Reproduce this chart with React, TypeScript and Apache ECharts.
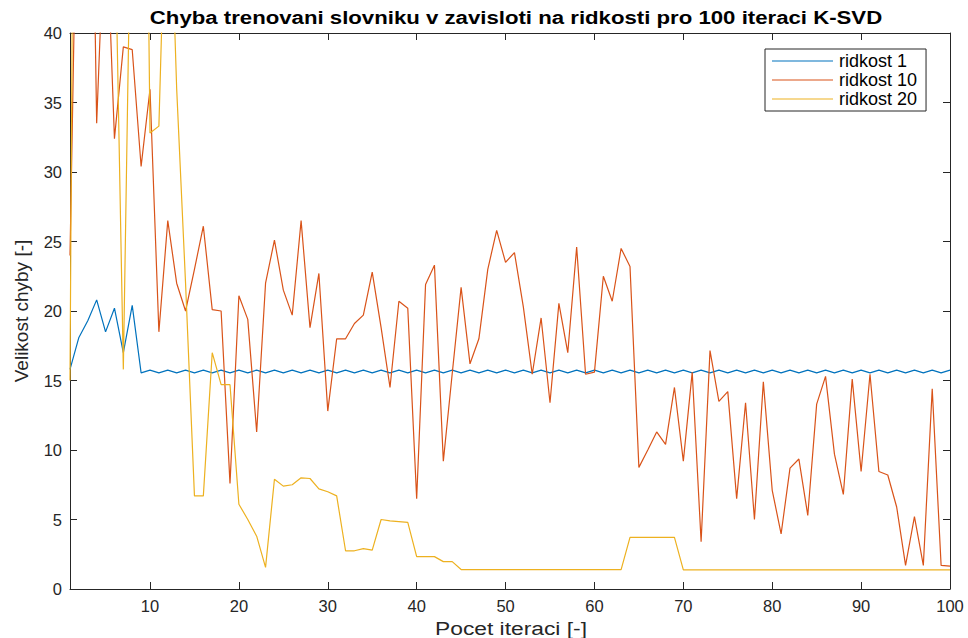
import React, { useEffect, useRef } from "react";
import * as echarts from "echarts";

const iterations: number[] = [
  1, 2, 3, 4, 5, 6, 7, 8, 9, 10, 11, 12, 13, 14, 15, 16, 17, 18, 19, 20,
  21, 22, 23, 24, 25, 26, 27, 28, 29, 30, 31, 32, 33, 34, 35, 36, 37, 38, 39, 40,
  41, 42, 43, 44, 45, 46, 47, 48, 49, 50, 51, 52, 53, 54, 55, 56, 57, 58, 59, 60,
  61, 62, 63, 64, 65, 66, 67, 68, 69, 70, 71, 72, 73, 74, 75, 76, 77, 78, 79, 80,
  81, 82, 83, 84, 85, 86, 87, 88, 89, 90, 91, 92, 93, 94, 95, 96, 97, 98, 99, 100,
];

const ridkost1: number[] = [
  15.8, 18.1, 19.3, 20.8, 18.5, 20.2, 17.0, 20.4, 15.55, 15.75,
  15.55, 15.75, 15.55, 15.75, 15.55, 15.75, 15.55, 15.75, 15.55, 15.75,
  15.55, 15.75, 15.55, 15.75, 15.55, 15.75, 15.55, 15.75, 15.55, 15.75,
  15.55, 15.75, 15.55, 15.75, 15.55, 15.75, 15.55, 15.75, 15.55, 15.75,
  15.55, 15.75, 15.55, 15.75, 15.55, 15.75, 15.55, 15.75, 15.55, 15.75,
  15.55, 15.75, 15.55, 15.75, 15.55, 15.75, 15.55, 15.75, 15.55, 15.75,
  15.55, 15.75, 15.55, 15.75, 15.55, 15.75, 15.55, 15.75, 15.55, 15.75,
  15.55, 15.75, 15.55, 15.75, 15.55, 15.75, 15.55, 15.75, 15.55, 15.75,
  15.55, 15.75, 15.55, 15.75, 15.55, 15.75, 15.55, 15.75, 15.55, 15.75,
  15.55, 15.75, 15.55, 15.75, 15.55, 15.75, 15.55, 15.75, 15.55, 15.75,
];

const ridkost10: number[] = [
  24, 60, 74, 33.5, 50, 32.4, 39.0, 38.8, 30.4, 35.95,
  18.5, 26.5, 22.0, 20.0, 23.0, 26.1, 20.1, 20.0, 7.6, 21.1,
  19.4, 11.3, 22.0, 25.1, 21.5, 19.7, 26.5, 18.8, 22.7, 12.8,
  18.0, 18.0, 19.1, 19.7, 22.8, 18.8, 14.5, 20.7, 20.2, 6.5,
  21.9, 23.3, 9.2, 15.5, 21.7, 16.2, 18.0, 23.0, 25.8, 23.5,
  24.2, 20.3, 15.45, 19.5, 13.4, 20.55, 17.0, 24.6, 15.45, 15.6,
  22.5, 20.7, 24.5, 23.2, 8.75, 10.0, 11.3, 10.4, 14.5, 9.2,
  15.6, 3.4, 17.15, 13.5, 14.2, 6.5, 13.4, 5.0, 14.9, 7.1,
  3.96, 8.7, 9.35, 5.3, 13.3, 15.3, 9.7, 6.8, 15.1, 8.45,
  15.45, 8.45, 8.2, 5.9, 1.7, 5.2, 1.7, 14.4, 1.7, 1.65,
];

const ridkost20: number[] = [
  15.0, 120, 110, 90, 80, 50, 15.8, 56, 90, 32.8,
  33.3, 56, 36, 22, 6.7, 6.7, 17.0, 14.7, 14.7, 6.1,
  5.0, 3.8, 1.56, 7.9, 7.4, 7.5, 8.0, 7.95, 7.2, 7.0,
  6.7, 2.75, 2.75, 2.9, 2.8, 5.0, 4.9, 4.85, 4.8, 2.33,
  2.33, 2.33, 1.97, 1.97, 1.4, 1.4, 1.4, 1.4, 1.4, 1.4,
  1.4, 1.4, 1.4, 1.4, 1.4, 1.4, 1.4, 1.4, 1.4, 1.4,
  1.4, 1.4, 1.4, 3.72, 3.72, 3.72, 3.72, 3.72, 3.72, 1.38,
  1.38, 1.38, 1.38, 1.38, 1.38, 1.38, 1.38, 1.38, 1.38, 1.38,
  1.38, 1.38, 1.38, 1.38, 1.38, 1.37, 1.37, 1.37, 1.37, 1.37,
  1.37, 1.37, 1.37, 1.37, 1.37, 1.37, 1.37, 1.37, 1.37, 1.37,
];

const xTicks: number[] = [10, 20, 30, 40, 50, 60, 70, 80, 90, 100];
const seriesNames: string[] = ["ridkost 1", "ridkost 10", "ridkost 20"];
const titleText = "Chyba trenovani slovniku v zavisloti na ridkosti pro 100 iteraci K-SVD";
const xLabel = "Pocet iteraci [-]";
const yLabel = "Velikost chyby [-]";

const FONT = "'Liberation Sans', Helvetica, Arial, sans-serif";
const AX = "#262626";
const COLORS = ["#0072BD", "#D95319", "#EDB120"];

export default function App() {
  const ref = useRef<HTMLDivElement>(null);
  useEffect(() => {
    if (!ref.current) return;
    const chart = echarts.init(ref.current, undefined, { renderer: "svg" });
    const pair = (ys: number[]) => iterations.map((x, i) => [x, ys[i]]);
    const allData = [ridkost1, ridkost10, ridkost20];
    const axisCommon = {
      axisLine: { show: true, onZero: false, lineStyle: { color: AX, width: 1 } },
      splitLine: { show: false },
    };
    chart.setOption({
      animation: false,
      backgroundColor: "#ffffff",
      textStyle: { fontFamily: FONT },
      grid: { left: 70, right: 18, top: 33, bottom: 49, containLabel: false },
      graphic: [
        {
          type: "text",
          x: 516,
          y: 18,
          scaleX: 1.2,
          style: {
            text: titleText,
            fontFamily: FONT,
            fontWeight: "bold",
            fontSize: 18.5,
            fill: "#000",
            textAlign: "center",
            textVerticalAlign: "middle",
          },
        },
        {
          type: "text",
          x: 511,
          y: 628,
          scaleX: 1.2,
          style: {
            text: xLabel,
            fontFamily: FONT,
            fontSize: 19,
            fill: AX,
            textAlign: "center",
            textVerticalAlign: "middle",
          },
        },
        {
          type: "text",
          x: 21,
          y: 311,
          rotation: Math.PI / 2,
          scaleX: 1.0,
          style: {
            text: yLabel,
            fontFamily: FONT,
            fontSize: 19,
            fill: AX,
            textAlign: "center",
            textVerticalAlign: "middle",
          },
        },
      ],
      legend: {
        data: seriesNames,
        orient: "vertical",
        left: 765,
        top: 49,
        width: 166,
        padding: [3, 9, 3, 7],
        itemGap: 1,
        itemWidth: 61,
        itemHeight: 1.2,
        icon: "rect",
        backgroundColor: "#ffffff",
        borderColor: AX,
        borderWidth: 1,
        borderRadius: 0,
        textStyle: { fontFamily: FONT, fontSize: 18, color: "#000", padding: [0, 0, 0, 1] },
      },
      xAxis: [
        {
          type: "value",
          min: 1,
          max: 100,
          position: "bottom",
          ...axisCommon,
          axisTick: { show: true, inside: true, length: 7, customValues: xTicks, lineStyle: { color: AX } },
          axisLabel: { show: true, customValues: xTicks, margin: 8, fontFamily: FONT, fontSize: 16.5, color: AX },
        },
        {
          type: "value",
          min: 1,
          max: 100,
          position: "top",
          ...axisCommon,
          axisTick: { show: true, inside: true, length: 7, customValues: xTicks, lineStyle: { color: AX } },
          axisLabel: { show: false },
        },
      ],
      yAxis: [
        {
          type: "value",
          min: 0,
          max: 40,
          interval: 5,
          position: "left",
          ...axisCommon,
          axisTick: { show: true, inside: true, length: 7, lineStyle: { color: AX } },
          axisLabel: { show: true, margin: 8, fontFamily: FONT, fontSize: 16.5, color: AX },
        },
        {
          type: "value",
          min: 0,
          max: 40,
          interval: 5,
          position: "right",
          ...axisCommon,
          axisTick: { show: true, inside: true, length: 7, lineStyle: { color: AX } },
          axisLabel: { show: false },
        },
      ],
      series: seriesNames.map((name, i) => ({
        name,
        type: "line",
        xAxisIndex: 0,
        yAxisIndex: 0,
        data: pair(allData[i]),
        showSymbol: false,
        symbol: "none",
        clip: true,
        color: COLORS[i],
        lineStyle: { color: COLORS[i], width: 1.2 },
        z: 2 + i,
      })),
    });
    return () => chart.dispose();
  }, []);
  return (
    <div
      ref={ref}
      style={{ position: "fixed", left: 0, top: 0, width: 968, height: 638, background: "#fff" }}
    />
  );
}
